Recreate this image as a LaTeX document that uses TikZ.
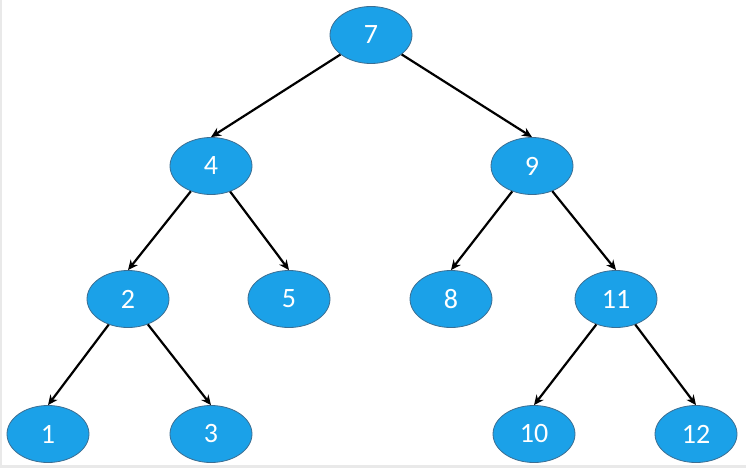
\documentclass[tikz,border=0pt]{standalone}
\usepackage{fontspec}
\setmainfont{Carlito}
\usetikzlibrary{shapes.geometric,arrows.meta}
\definecolor{nodefill}{HTML}{1BA1E8}
\definecolor{nodeline}{HTML}{3C6E92}
\definecolor{bandgray}{HTML}{E9E9E9}
\tikzset{
  treenode/.style={ellipse, draw=nodeline, line width=0.8pt, fill=nodefill,
    minimum width=82pt, minimum height=57pt, inner sep=0pt,
    text=white, font=\fontsize{28}{28}\selectfont},
  edge/.style={line width=2.2pt, -{Stealth[length=10pt,width=9pt]}}
}
\begin{document}
\begin{tikzpicture}[x=1pt,y=-1pt]
\useasboundingbox (0,0) rectangle (746,468);
\fill[white] (0,0) rectangle (746,468);
\fill[bandgray] (0,465) rectangle (746,468);
\fill[bandgray] (0,0) rectangle (2,468);
\node[treenode] (n7) at (371,35) {7};
\node[treenode] (n4) at (211,166) {4};
\node[treenode] (n9) at (532,166) {9};
\node[treenode] (n2) at (128,299) {2};
\node[treenode] (n5) at (289,299) {5};
\node[treenode] (n8) at (451,299) {8};
\node[treenode] (n11) at (616,299) {11};
\node[treenode] (n1) at (48,434) {1};
\node[treenode] (n3) at (211,434) {3};
\node[treenode] (n10) at (534,434) {10};
\node[treenode] (n12) at (696,434) {12};
\draw[edge] (n7) -- (n4.north);
\draw[edge] (n7) -- (n9.north);
\draw[edge] (n4) -- (n2.north);
\draw[edge] (n4) -- (n5.north);
\draw[edge] (n9) -- (n8.north);
\draw[edge] (n9) -- (n11.north);
\draw[edge] (n2) -- (n1.north);
\draw[edge] (n2) -- (n3.north);
\draw[edge] (n11) -- (n10.north);
\draw[edge] (n11) -- (n12.north);
\end{tikzpicture}
\end{document}
